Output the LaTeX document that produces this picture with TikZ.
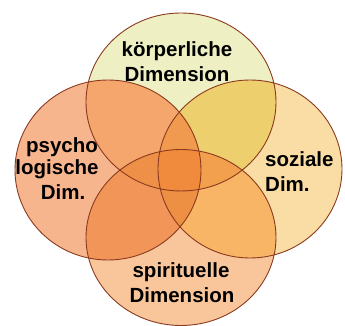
\documentclass[tikz,border=0pt]{standalone}
\usepackage{fontspec}
\setmainfont{Liberation Sans}
\usepackage{tikz}

\definecolor{cT}{HTML}{EEEFC2}
\definecolor{cL}{HTML}{F7B58E}
\definecolor{cR}{HTML}{F9DDA4}
\definecolor{cB}{HTML}{F9C69C}
\definecolor{cTL}{HTML}{F5A66C}
\definecolor{cTR}{HTML}{EECF6E}
\definecolor{cLB}{HTML}{F29559}
\definecolor{cRB}{HTML}{F8B565}
\definecolor{cTB}{HTML}{F2A050}
\definecolor{cLR}{HTML}{F0A050}
\definecolor{cTLR}{HTML}{F09A50}
\definecolor{cTLB}{HTML}{EF9048}
\definecolor{cTRB}{HTML}{F3A04E}
\definecolor{cLRB}{HTML}{EE9044}
\definecolor{cAll}{HTML}{F08A3C}
\definecolor{rimcol}{HTML}{8A3B1F}

\def\circT{(181,224) ellipse [x radius=95pt, y radius=89pt]}
\def\circL{(108,156) ellipse [x radius=93pt, y radius=90pt]}
\def\circR{(250,157) ellipse [x radius=92pt, y radius=89pt]}
\def\circB{(181,88.5) ellipse [x radius=95pt, y radius=88pt]}

\begin{document}
\begin{tikzpicture}[x=1pt, y=1pt,
    rim/.style={draw=rimcol, line width=0.9pt},
    lbl/.style={anchor=base, inner sep=0pt, font=\fontsize{20.5}{24}\selectfont\bfseries}]
  \useasboundingbox (0,0) rectangle (345,326);
  % single areas
  \fill[cT] \circT;
  \fill[cL] \circL;
  \fill[cR] \circR;
  \fill[cB] \circB;
  % pairs
  \begin{scope}\clip \circT; \fill[cTL] \circL; \fill[cTR] \circR; \fill[cTB] \circB; \end{scope}
  \begin{scope}\clip \circB; \fill[cLB] \circL; \fill[cRB] \circR; \end{scope}
  \begin{scope}\clip \circL; \fill[cLR] \circR; \end{scope}
  % triples and centre
  \begin{scope}\clip \circT; \clip \circL; \fill[cTLR] \circR; \fill[cTLB] \circB; \end{scope}
  \begin{scope}\clip \circT; \clip \circR; \fill[cTRB] \circB; \end{scope}
  \begin{scope}\clip \circL; \clip \circR; \fill[cLRB] \circB; \end{scope}
  \begin{scope}\clip \circT; \clip \circL; \clip \circR; \fill[cAll] \circB; \end{scope}
  % outlines
  \draw[rim] \circT;
  \draw[rim] \circL;
  \draw[rim] \circR;
  \draw[rim] \circB;
  % labels
  \node[lbl] (koerper1) at (177,269) {körperliche};
  \node[lbl] (koerper2) at (177,244) {Dimension};
  \node[lbl] (psych1) at (62,173) {psycho};
  \node[lbl] (psych2) at (57,151) {logische};
  \node[lbl] (psych3) at (63,126) {Dim.};
  \node[lbl, anchor=base west] (sozial1) at (265,159) {soziale};
  \node[lbl, anchor=base west] (sozial2) at (265,134) {Dim.};
  \node[lbl] (spirit1) at (181,48) {spirituelle};
  \node[lbl] (spirit2) at (182,23) {Dimension};
\end{tikzpicture}
\end{document}
